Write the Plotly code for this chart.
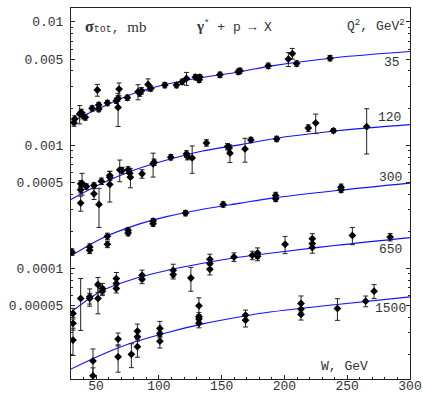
import plotly.graph_objects as go

# ---------------- data ----------------
# Q^2 = 35 GeV^2
W35 = [32.4, 33.0, 36.9, 38.2, 39.6, 41.4, 46.8, 51.0, 52.1, 52.1, 59.0, 66.1, 67.5, 68.3, 67.5, 74.9,
       83.4, 84.8, 86.1, 91.4, 93.6, 104.7, 114.0, 118.5, 122.0, 129.1, 132.1, 132.6, 148.6, 163.2,
       164.6, 187.1, 203.1, 206.3, 209.7, 236.3]
S35 = [0.001514, 0.001630, 0.00179, 0.001845, 0.001734, 0.001679, 0.001987, 0.002801, 0.001963, 0.002117,
       0.002198, 0.002293, 0.002023, 0.002851, 0.002393, 0.002426, 0.002711, 0.002648, 0.002761, 0.003104,
       0.002882, 0.003070, 0.003070, 0.003266, 0.003474, 0.003565, 0.003388, 0.003565, 0.003723, 0.003938,
       0.004010, 0.004402, 0.004990, 0.005538, 0.004594, 0.005082]
E35 = [6, 6, 17, 6, 6, 5, 5, 11, 5, 5, 5, 5, 30, 12, 5, 5, 14, 6, 6, 11, 5, 5, 5, 5, 12, 5, 5, 5, 5, 5,
       5, 5, 13, 10, 5, 5]

# Q^2 = 120 GeV^2
W120 = [37.7, 37.7, 38.8, 37.7, 42.2, 48.3, 48.3, 52.3, 54.2, 60.9, 60.9, 60.9, 68.8, 70.7, 75.5, 76.8,
        77.3, 86.6, 95.4, 96.2, 109.5, 122.0, 122.8, 126.5, 137.9, 154.7, 156.0, 156.6, 168.6, 173.3,
        193.8, 219.0, 224.9, 239.0, 265.5]
S120 = [0.000485, 0.000434, 0.000491, 0.000338, 0.000461, 0.000470, 0.000402, 0.000330, 0.000509, 0.000566,
        0.000548, 0.000479, 0.000630, 0.000622, 0.000630, 0.000591, 0.000549, 0.000585, 0.000705, 0.000726,
        0.000797, 0.000849, 0.000807, 0.000787, 0.001042, 0.000973, 0.000949, 0.000859, 0.000931, 0.001101,
        0.001122, 0.001377, 0.001513, 0.001309, 0.001411]
E120 = [6, 6, 20, 14, 5, 5, 10, 35, 6, 8, 6, 28, 20, 6, 6, 6, 18, 8, 22, 6, 5, 6, 6, 25, 6, 6, 6, 16, 22, 5,
        5, 6, 18, 4, 40]

# Q^2 = 300 GeV^2
W300 = [30.8, 44.9, 44.9, 59.0, 59.0, 75.5, 75.5, 95.4, 95.4, 121.2, 151.2, 193.0, 193.0, 245.1, 245.1]
S300 = [0.0001355, 0.0001488, 0.0001400, 0.0001816, 0.0001564, 0.0002032, 0.0001932, 0.0002417, 0.0002302,
        0.0002806, 0.0003297, 0.0003900, 0.0003666, 0.0004548, 0.0004332]
E300 = [6, 6, 6, 6, 6, 5, 5, 5, 5, 5, 5, 6, 5, 6, 5]

# Q^2 = 650 GeV^2
W650 = [31.6, 31.6, 31.6, 37.7, 44.9, 44.9, 51.5, 51.5, 55.0, 55.0, 66.1, 66.1, 66.1, 86.6, 86.6, 111.4,
        111.4, 125.5, 140.6, 140.6, 140.6, 159.8, 174.4, 178.6, 178.6, 200.5, 222.2, 222.2, 222.2, 254.1,
        284.2]
S650 = [4.30e-5, 3.57e-5, 2.61e-5, 5.69e-5, 5.86e-5, 5.69e-5, 7.38e-5, 5.69e-5, 6.85e-5, 6.52e-5, 8.25e-5,
        7.52e-5, 6.85e-5, 8.78e-5, 8.15e-5, 9.63e-5, 8.89e-5, 8.34e-5, 1.183e-4, 1.092e-4, 9.81e-5, 1.235e-4,
        1.274e-4, 1.330e-4, 1.251e-4, 1.564e-4, 1.738e-4, 1.584e-4, 1.472e-4, 1.849e-4, 1.792e-4]
E650 = [10, 12, 25, 45, 16, 10, 14, 25, 10, 8, 12, 8, 8, 10, 8, 12, 8, 22, 10, 8, 10, 8, 8, 10, 8, 16, 10,
        8, 10, 16, 7]

# Q^2 = 1500 GeV^2
W1500 = [47.5, 47.5, 67.5, 67.5, 78.1, 82.9, 82.9, 82.9, 100.8, 100.8, 100.8, 131.9, 131.9, 131.9, 131.9,
         169.0, 169.0, 213.2, 213.2, 213.2, 242.2, 264.7, 271.4]
S1500 = [1.77e-5, 1.34e-5, 2.66e-5, 1.91e-5, 2.00e-5, 3.09e-5, 2.78e-5, 2.31e-5, 3.25e-5, 2.96e-5, 2.56e-5,
         4.96e-5, 4.04e-5, 3.87e-5, 3.57e-5, 4.16e-5, 3.79e-5, 5.18e-5, 4.66e-5, 4.22e-5, 4.72e-5, 5.41e-5,
         6.52e-5]
E1500 = [25, 16, 12, 25, 22, 14, 8, 18, 14, 8, 12, 16, 8, 8, 8, 10, 12, 15, 10, 10, 20, 10, 13]

# model curves, values
Wc = [30, 54, 81, 107, 134, 165, 190, 240, 300]
C35 = [0.00155, 0.00202, 0.00265, 0.00313, 0.00354, 0.00394, 0.00440, 0.00512, 0.00575]
C120 = [0.000362, 0.000485, 0.000630, 0.000759, 0.000891, 0.001009, 0.001122, 0.001300, 0.001466]
C300 = [0.000126, 0.000174, 0.000223, 0.000264, 0.000300, 0.000338, 0.000371, 0.000426, 0.000491]
C650 = [4.40e-5, 6.52e-5, 8.25e-5, 9.63e-5, 1.092e-4, 1.235e-4, 1.330e-4, 1.53e-4, 1.774e-4]
C1500 = [1.52e-5, 1.98e-5, 2.53e-5, 3.01e-5, 3.52e-5, 4.04e-5, 4.43e-5, 5.05e-5, 5.86e-5]

Q2_labels = ["35", "120", "300", "650", "1500"]

ytick_vals = [5e-5, 1e-4, 5e-4, 1e-3, 5e-3, 1e-2]
ytick_text = ["0.00005", "0.0001", "0.0005", "0.001", "0.005", "0.01"]
xtick_vals = [50, 100, 150, 200, 250, 300]

# ---------------- figure ----------------
MONO = "Liberation Mono, Courier New, monospace"
TXT = "#333333"

fig = go.Figure()

series = [(W35, S35, E35, Wc, C35), (W120, S120, E120, Wc, C120), (W300, S300, E300, Wc, C300),
          (W650, S650, E650, Wc, C650), (W1500, S1500, E1500, Wc, C1500)]

for W, S, E, WC, C in series:
    fig.add_trace(go.Scatter(x=WC, y=C, mode="lines", line=dict(color="#1010ff", width=1.1, shape="spline"),
                             hoverinfo="skip", showlegend=False))
for W, S, E, WC, C in series:
    err = [s * e / 100.0 for s, e in zip(S, E)]
    fig.add_trace(go.Scatter(
        x=W, y=S, mode="markers",
        marker=dict(symbol="diamond", size=6, color="black"),
        error_y=dict(type="data", array=err, visible=True, color="#222222", thickness=1, width=2.5),
        showlegend=False))

minor_vals = []
for dec in [1e-5, 1e-4, 1e-3, 1e-2]:
    for k in range(2, 10):
        v = k * dec
        if k != 5:
            minor_vals.append(v)

fig.update_layout(
    width=423, height=393,
    margin=dict(l=71, r=13, t=8, b=14, autoexpand=False),
    paper_bgcolor="white", plot_bgcolor="white",
    font=dict(family=MONO, size=13, color=TXT),
    xaxis=dict(range=[30, 300], tickvals=xtick_vals, ticks="inside", ticklen=4, tickcolor="#222",
               showline=True, linecolor="#222", linewidth=1, mirror=True, showgrid=False, zeroline=False,
               automargin=False, ticklabelstandoff=-6,
               tickfont=dict(family=MONO, size=13, color=TXT),
               minor=dict(dtick=10, ticks="inside", ticklen=2, tickcolor="#222", showgrid=False)),
    yaxis=dict(type="log", range=[-4.899, -1.887], tickvals=ytick_vals, ticktext=ytick_text,
               ticks="inside", ticklen=4, tickcolor="#222", showline=True, linecolor="#222", linewidth=1,
               mirror="ticks", showgrid=False, zeroline=False, ticklabelstandoff=4, automargin=False,
               tickfont=dict(family=MONO, size=13, color=TXT),
               minor=dict(tickvals=minor_vals, ticks="inside", ticklen=2, tickcolor="#222", showgrid=False)),
)

def px_x(px):
    return (px - 71) / 339.0

def px_y(py):
    return (379 - py) / 372.0

anns = [
    dict(text="<span style='font-family:Liberation Serif;font-weight:bold;font-size:16px'>σ</span>"
              "<span style='font-size:10px'>tot</span>, "
              "<span style='font-family:Liberation Serif;font-size:15px'>mb</span>",
         x=px_x(84), y=px_y(26), xanchor="left", yanchor="middle"),
    dict(text="<span style='font-family:Liberation Serif;font-weight:bold;font-size:15px'>γ</span><sup>*</sup> + p → X",
         x=px_x(195), y=px_y(26), xanchor="left", yanchor="middle"),
    dict(text="Q<sup>2</sup>, GeV<sup>2</sup>", x=px_x(406), y=px_y(25), xanchor="right", yanchor="middle"),
    dict(text=Q2_labels[0], x=px_x(401), y=px_y(61.7), xanchor="right", yanchor="middle"),
    dict(text=Q2_labels[1], x=px_x(402), y=px_y(116.7), xanchor="right", yanchor="middle"),
    dict(text=Q2_labels[2], x=px_x(403), y=px_y(176.7), xanchor="right", yanchor="middle"),
    dict(text=Q2_labels[3], x=px_x(403), y=px_y(249.3), xanchor="right", yanchor="middle"),
    dict(text=Q2_labels[4], x=px_x(407), y=px_y(308.3), xanchor="right", yanchor="middle"),
    dict(text="W, GeV", x=px_x(320), y=px_y(366.7), xanchor="left", yanchor="middle"),
]
for a in anns:
    a.update(xref="paper", yref="paper", showarrow=False, font=dict(family=MONO, size=13, color=TXT),
             borderpad=0)
    fig.add_annotation(**a)

fig.write_html("out.html")
